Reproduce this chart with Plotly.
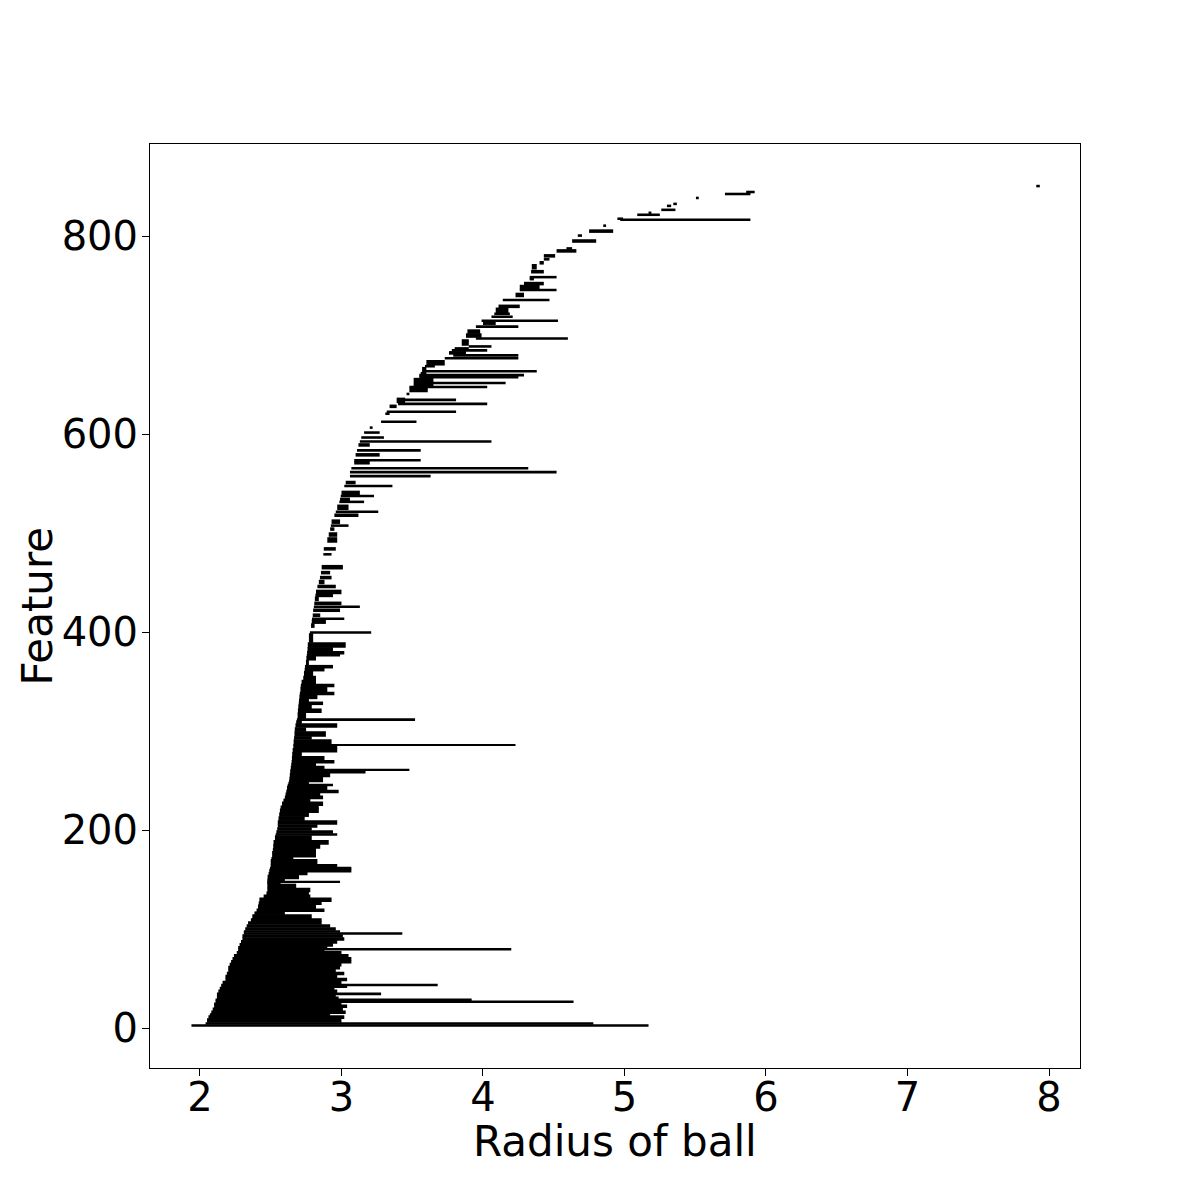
import plotly.graph_objects as go


# barcode blocks: features feat_lo..feat_hi share the same [birth, death] interval
feat_lo = [
    2, 4, 6, 10, 13, 15, 18, 21, 24, 26, 28, 30, 32, 34, 36, 39, 42, 43, 45, 48,
    51, 54, 57, 60, 63, 66, 69, 72, 75, 78, 79, 81, 83, 86, 89, 92, 95, 97, 99, 102,
    105, 108, 111, 115, 118, 121, 125, 128, 132, 135, 138, 142, 146, 148, 149, 151, 155, 158, 161, 163,
    166, 171, 173, 179, 182, 186, 190, 195, 197, 200, 203, 206, 210, 214, 218, 222, 225, 229, 232, 235,
    238, 241, 245, 247, 249, 251, 254, 258, 261, 262, 265, 268, 271, 275, 279, 283, 286, 287, 292, 295,
    300, 304, 308, 311, 313, 319, 323, 327, 330, 333, 337, 340, 345, 348, 352, 356, 361, 364, 367, 372,
    376, 378, 381, 385, 390, 399, 405, 409, 413, 416, 421, 425, 428, 432, 436, 439, 445, 449, 454, 459,
    464, 478, 483, 491, 497, 503, 507, 510, 517, 521, 524, 531, 533, 537, 539, 547, 550, 557, 561, 565,
    570, 573, 578, 583, 588, 592, 596, 601, 606, 612, 620, 622, 627, 630, 632, 634, 640, 643, 647, 649,
    651, 657, 659, 661, 663, 665, 668, 670, 676, 679, 681, 684, 686, 688, 690, 696, 698, 702, 708, 711,
    714, 718, 721, 723, 728, 735, 739, 745, 747, 751, 756, 758, 763, 767, 772, 776, 779, 784, 787, 794,
    800, 804, 810, 816, 817, 821, 823, 826, 830, 832, 838, 842, 844, 850,
]
feat_hi = [
    3, 5, 9, 12, 14, 17, 20, 23, 25, 27, 29, 31, 33, 35, 38, 41, 42, 44, 47, 50,
    53, 56, 59, 62, 65, 68, 71, 74, 77, 78, 80, 82, 85, 88, 91, 94, 96, 98, 101, 104,
    107, 110, 114, 117, 120, 124, 127, 131, 134, 137, 141, 145, 147, 148, 150, 154, 157, 160, 162, 165,
    170, 172, 178, 181, 185, 189, 194, 196, 199, 202, 205, 209, 213, 217, 221, 224, 228, 231, 234, 237,
    240, 244, 246, 248, 250, 253, 257, 260, 261, 264, 267, 270, 274, 278, 282, 285, 286, 291, 294, 299,
    303, 307, 310, 312, 318, 322, 326, 329, 332, 336, 339, 344, 347, 351, 355, 360, 363, 366, 371, 375,
    377, 380, 384, 389, 398, 400, 408, 412, 414, 418, 423, 426, 430, 435, 438, 442, 447, 452, 456, 461,
    467, 479, 485, 495, 500, 505, 508, 513, 519, 522, 528, 532, 535, 538, 542, 548, 552, 558, 562, 566,
    572, 574, 580, 584, 590, 593, 597, 602, 607, 613, 621, 623, 629, 631, 636, 635, 641, 646, 648, 656,
    652, 658, 660, 662, 664, 667, 669, 674, 677, 680, 683, 685, 687, 689, 695, 697, 701, 705, 709, 713,
    715, 719, 722, 727, 730, 736, 742, 746, 750, 753, 757, 759, 765, 771, 774, 777, 781, 786, 788, 796,
    801, 806, 811, 817, 818, 822, 824, 827, 831, 833, 839, 843, 845, 851,
]
birth = [
    1.94, 2.04, 2.05, 2.06, 2.07, 2.08, 2.09, 2.10, 2.10, 2.11, 2.11, 2.12, 2.12, 2.12, 2.13, 2.14, 2.15, 2.15, 2.16, 2.18,
    2.18, 2.19, 2.20, 2.20, 2.21, 2.22, 2.23, 2.24, 2.26, 2.27, 2.27, 2.27, 2.28, 2.29, 2.30, 2.30, 2.31, 2.31, 2.32, 2.33,
    2.34, 2.36, 2.37, 2.385, 2.40, 2.41, 2.415, 2.42, 2.45, 2.47, 2.476, 2.476, 2.476, 2.476, 2.476, 2.478, 2.485, 2.49, 2.495, 2.50,
    2.50, 2.505, 2.51, 2.515, 2.518, 2.52, 2.53, 2.535, 2.54, 2.546, 2.55, 2.55, 2.555, 2.56, 2.565, 2.57, 2.58, 2.59, 2.60, 2.605,
    2.61, 2.615, 2.62, 2.625, 2.63, 2.632, 2.635, 2.638, 2.64, 2.642, 2.645, 2.648, 2.65, 2.652, 2.655, 2.66, 2.66, 2.662, 2.665, 2.668,
    2.67, 2.675, 2.68, 2.685, 2.69, 2.692, 2.695, 2.698, 2.70, 2.703, 2.706, 2.71, 2.713, 2.718, 2.73, 2.735, 2.74, 2.742, 2.749, 2.752,
    2.755, 2.757, 2.76, 2.762, 2.77, 2.777, 2.785, 2.79, 2.792, 2.797, 2.80, 2.805, 2.808, 2.812, 2.816, 2.82, 2.83, 2.84, 2.848, 2.855,
    2.86, 2.872, 2.875, 2.90, 2.91, 2.92, 2.925, 2.93, 2.95, 2.96, 2.97, 2.985, 2.99, 2.995, 3.00, 3.02, 3.03, 3.06, 3.06, 3.07,
    3.09, 3.09, 3.10, 3.11, 3.12, 3.13, 3.14, 3.16, 3.20, 3.28, 3.31, 3.32, 3.34, 3.40, 3.39, 3.43, 3.46, 3.48, 3.48, 3.51,
    3.60, 3.55, 3.55, 3.56, 3.57, 3.57, 3.59, 3.60, 3.73, 3.79, 3.76, 3.78, 3.80, 3.90, 3.85, 3.95, 3.88, 3.89, 3.95, 4.00,
    3.99, 4.06, 4.08, 4.09, 4.11, 4.14, 4.23, 4.26, 4.26, 4.29, 4.33, 4.33, 4.34, 4.345, 4.40, 4.43, 4.43, 4.52, 4.59, 4.63,
    4.67, 4.75, 4.85, 4.97, 4.95, 5.09, 5.17, 5.26, 5.30, 5.345, 5.505, 5.71, 5.86, 7.91,
]
death = [
    5.17, 4.78, 3.00, 3.02, 2.92, 3.03, 3.01, 3.04, 3.00, 4.64, 3.92, 2.98, 2.96, 3.28, 2.97, 2.95, 3.04, 3.68, 3.00, 3.04,
    2.97, 3.02, 2.96, 2.99, 3.00, 3.07, 3.07, 3.05, 3.00, 2.88, 4.20, 2.90, 2.94, 2.97, 3.02, 3.01, 3.43, 2.99, 2.96, 2.92,
    2.86, 2.86, 2.79, 2.60, 2.88, 2.82, 2.86, 2.93, 2.78, 2.77, 2.78, 2.68, 2.57, 2.99, 2.60, 2.70, 2.76, 3.07, 3.07, 2.97,
    2.83, 2.66, 2.82, 2.82, 2.85, 2.91, 2.79, 2.97, 2.94, 2.79, 2.83, 2.97, 2.74, 2.77, 2.84, 2.84, 2.87, 2.78, 2.87, 2.85,
    2.98, 2.90, 2.94, 2.77, 2.87, 2.87, 2.92, 3.17, 3.48, 2.88, 2.82, 2.95, 2.88, 2.72, 2.97, 2.97, 4.23, 2.93, 2.79, 2.89,
    2.75, 2.97, 2.72, 3.52, 2.75, 2.86, 2.79, 2.87, 2.77, 2.83, 2.95, 2.90, 2.95, 2.82, 2.82, 2.80, 2.88, 2.94, 2.77, 2.82,
    2.99, 3.02, 2.94, 3.03, 2.80, 3.21, 2.81, 2.89, 3.02, 2.85, 2.99, 3.13, 3.00, 2.84, 2.94, 3.00, 2.96, 2.88, 2.93, 2.92,
    3.01, 2.93, 2.96, 2.97, 2.97, 2.95, 3.05, 2.99, 3.12, 3.26, 3.05, 3.16, 3.06, 3.23, 3.13, 3.36, 3.10, 3.63, 4.52, 4.32,
    3.20, 3.56, 3.27, 3.56, 3.20, 4.06, 3.30, 3.27, 3.22, 3.53, 3.34, 3.81, 3.39, 4.03, 3.45, 3.81, 3.48, 3.61, 4.03, 3.65,
    4.16, 4.25, 4.29, 3.60, 4.38, 3.60, 3.66, 3.73, 4.25, 4.25, 3.88, 4.03, 3.90, 4.06, 3.90, 4.60, 3.99, 3.98, 4.25, 4.09,
    4.53, 4.21, 4.19, 4.18, 4.26, 4.47, 4.29, 4.52, 4.40, 4.43, 4.36, 4.52, 4.43, 4.38, 4.43, 4.47, 4.51, 4.66, 4.63, 4.80,
    4.70, 4.92, 4.87, 5.89, 4.99, 5.25, 5.19, 5.36, 5.33, 5.37, 5.525, 5.89, 5.92, 7.935,
]

x_ticks = [2, 3, 4, 5, 6, 7, 8]
y_ticks = [0, 200, 400, 600, 800]

centers = [(lo + hi) / 2 for lo, hi in zip(feat_lo, feat_hi)]
widths = [hi - lo + 1.6 for lo, hi in zip(feat_lo, feat_hi)]
lengths = [d - b for b, d in zip(birth, death)]

fig = go.Figure()

fig.add_trace(
    go.Bar(
        orientation="h",
        y=centers,
        x=lengths,
        base=birth,
        width=widths,
        marker=dict(color="black", line=dict(width=0)),
        hoverinfo="skip",
    )
)

font = "DejaVu Sans, sans-serif"

# page body adds 8px, so margins are 8px smaller on the left/top
fig.update_layout(
    width=1200,
    height=1200,
    margin=dict(l=142, r=128, t=136, b=140),
    paper_bgcolor="white",
    plot_bgcolor="white",
    barmode="overlay",
    showlegend=False,
    font=dict(family=font, color="black"),
)

fig.update_xaxes(
    range=[1.647, 8.219],
    tickvals=x_ticks,
    tickfont=dict(size=40),
    ticks="outside",
    ticklen=7,
    tickwidth=1,
    tickcolor="black",
    ticklabelstandoff=-13,
    showline=True,
    linecolor="black",
    linewidth=1,
    mirror=True,
    showgrid=False,
    zeroline=False,
    automargin=False,
)

fig.update_yaxes(
    range=[-40.4, 893],
    tickvals=y_ticks,
    tickfont=dict(size=40),
    ticks="outside",
    ticklen=7,
    tickwidth=1,
    tickcolor="black",
    ticklabelstandoff=-4,
    showline=True,
    linecolor="black",
    linewidth=1,
    mirror=True,
    showgrid=False,
    zeroline=False,
    automargin=False,
)

# axis titles placed as annotations for exact positioning
fig.add_annotation(
    text="Radius of ball",
    xref="paper", yref="paper",
    x=0.5, y=-0.08,
    xanchor="center", yanchor="middle",
    showarrow=False,
    font=dict(size=42),
)
fig.add_annotation(
    text="Feature",
    xref="paper", yref="paper",
    x=-0.122, y=0.5,
    xanchor="center", yanchor="middle",
    textangle=-90,
    showarrow=False,
    font=dict(size=42),
)

fig.write_html("out.html")
